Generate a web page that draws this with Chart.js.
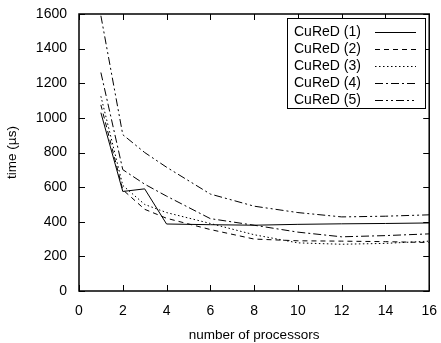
<!DOCTYPE html>
<html>
<head>
<meta charset="utf-8">
<script src="https://cdn.jsdelivr.net/npm/chart.js@4"></script>
<style>
  html, body { margin: 0; padding: 0; background: #fff; }
  #wrap { width: 441px; height: 343px; }
</style>
</head>
<body>
<div id="wrap"><canvas id="myChart" width="441" height="343"></canvas></div>
<script>
const processors = [1, 2, 3, 4, 6, 8, 10, 12, 14, 16];
const cured1 = [1030, 575, 590, 387, 383, 380, 385, 388, 390, 393];
const cured2 = [1075, 585, 472, 420, 355, 300, 290, 288, 285, 280];
const cured3 = [1125, 610, 500, 453, 390, 325, 278, 270, 275, 288];
const cured4 = [1262, 701, 617, 548, 418, 380, 340, 313, 320, 330];
const cured5 = [1590, 903, 800, 715, 560, 490, 453, 428, 432, 440];
const labels = ['CuReD (1)', 'CuReD (2)', 'CuReD (3)', 'CuReD (4)', 'CuReD (5)'];
const xTicks = [0, 2, 4, 6, 8, 10, 12, 14, 16];
const yTicks = [0, 200, 400, 600, 800, 1000, 1200, 1400, 1600];

const dashes = [[], [5, 4], [1.5, 2.5], [8, 3, 2, 3], [8, 3, 2, 3, 2, 3]];
const series = [cured1, cured2, cured3, cured4, cured5];

const ctx = document.getElementById('myChart').getContext('2d');
const FONT = '"Liberation Sans", Arial, sans-serif';

const frame = {
  id: 'frame',
  afterDraw: (chart) => {
    const c = chart.ctx;
    const {left, right, top, bottom} = chart.chartArea;
    const xs = chart.scales.x, ys = chart.scales.y;
    c.save();
    c.strokeStyle = '#000';
    c.lineWidth = 1.5;
    c.setLineDash([]);
    c.strokeRect(left, top, right - left, bottom - top);
    c.lineWidth = 1;
    c.beginPath();
    xTicks.forEach(v => {
      const px = Math.round(xs.getPixelForValue(v)) + 0.5;
      c.moveTo(px, bottom); c.lineTo(px, bottom - 6);
      c.moveTo(px, top); c.lineTo(px, top + 6);
    });
    yTicks.forEach(v => {
      const py = Math.round(ys.getPixelForValue(v)) + 0.5;
      c.moveTo(left, py); c.lineTo(left + 6, py);
      c.moveTo(right, py); c.lineTo(right - 6, py);
    });
    c.stroke();

    // legend
    const bx = 287, by = 18, bw = 138, bh = 90;
    c.fillStyle = '#fff';
    c.fillRect(bx, by, bw, bh);
    c.strokeRect(bx + 0.5, by + 0.5, bw, bh);
    c.font = '14px ' + FONT;
    c.fillStyle = '#000';
    c.textBaseline = 'middle';
    c.textAlign = 'left';
    chart.data.datasets.forEach((ds, i) => {
      const cy = 32 + i * 17.1;
      c.fillText(ds.label, 294, cy);
      c.beginPath();
      c.setLineDash(ds.borderDash || []);
      c.moveTo(375, Math.round(cy) + 0.5);
      c.lineTo(416, Math.round(cy) + 0.5);
      c.stroke();
    });
    c.restore();
  }
};

const data = {
  datasets: series.map((s, i) => ({
    label: labels[i],
    data: processors.map((p, j) => ({x: p, y: s[j]})),
    borderColor: '#000',
    borderWidth: 1,
    borderDash: dashes[i],
    pointRadius: 0,
    fill: false,
    tension: 0
  }))
};

const config = {
  type: 'line',
  data: data,
  options: {
    responsive: false,
    animation: false,
    layout: { padding: { top: 14, right: 11, left: 0, bottom: 0 } },
    plugins: {
      legend: { display: false },
      tooltip: { enabled: false }
    },
    scales: {
      x: {
        type: 'linear',
        min: 0,
        max: 16,
        afterBuildTicks: (s) => { s.ticks = xTicks.map(v => ({value: v})); },
        afterFit: (s) => { s.height = 52; },
        grid: { display: false },
        border: { display: false },
        ticks: { color: '#000', padding: 4, font: { family: FONT, size: 14 }, maxRotation: 0, callback: v => String(v) },
        title: { display: true, text: 'number of processors', color: '#000', padding: { top: 8, bottom: 0 }, font: { family: FONT, size: 13.5 } }
      },
      y: {
        min: 0,
        max: 1600,
        afterBuildTicks: (s) => { s.ticks = yTicks.map(v => ({value: v})); },
        afterFit: (s) => { s.width = 79; },
        grid: { display: false },
        border: { display: false },
        ticks: { color: '#000', padding: 4, font: { family: FONT, size: 14 }, callback: v => String(v) },
        title: { display: true, text: 'time (µs)', color: '#000', padding: { top: 4, bottom: 0 }, font: { family: FONT, size: 13.5 } }
      }
    }
  },
  plugins: [frame]
};

const myChart = new Chart(ctx, config);
</script>
</body>
</html>
